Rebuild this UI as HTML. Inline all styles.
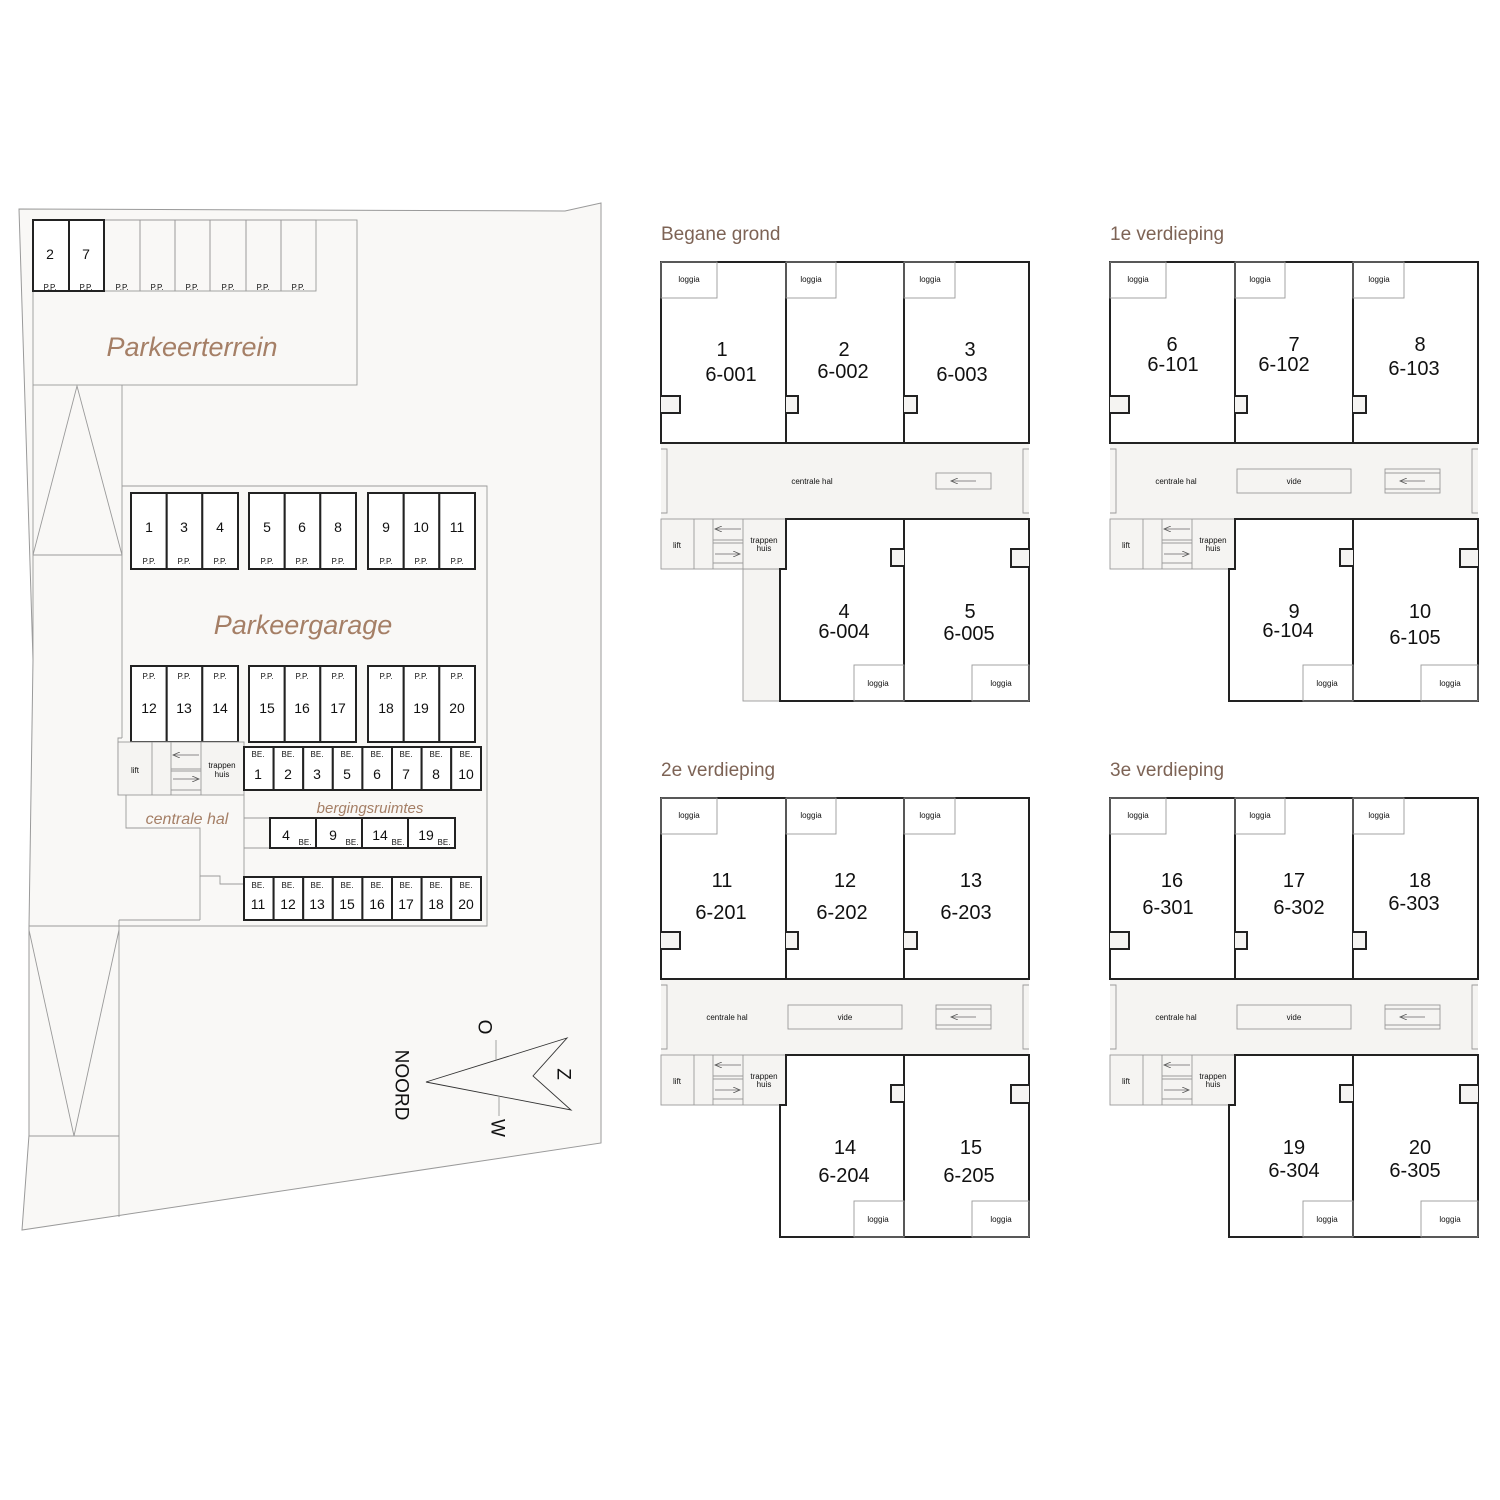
<!DOCTYPE html>
<html><head><meta charset="utf-8"><style>
html,body{margin:0;padding:0;background:#fff;}
svg{display:block;}
text{font-family:"Liberation Sans",sans-serif;fill:#111;}
.t{fill:#7d6355;font-size:19px;}
.it{fill:#a57f66;font-style:italic;}
.thin{fill:none;stroke:#9a9a9a;stroke-width:0.9;}
.b{fill:#fff;stroke:#222;stroke-width:2;}
.lg{fill:#f5f4f2;stroke:#9a9a9a;stroke-width:0.9;}
.s{font-size:8px;text-anchor:middle;}
.n{font-size:14px;text-anchor:middle;}
.u{font-size:20px;text-anchor:middle;}
</style></head><body>
<svg width="1500" height="1500" viewBox="0 0 1500 1500" xmlns="http://www.w3.org/2000/svg">
<defs>
<marker id="ah" markerWidth="8" markerHeight="6" refX="7" refY="3" orient="auto" markerUnits="userSpaceOnUse"><path d="M0,0 L7,3 L0,6" fill="none" stroke="#555" stroke-width="0.8"/></marker>
<g id="floor">
 <rect x="661" y="443" width="368" height="76" fill="#f5f4f2"/>
 <polyline class="thin" points="661,449 667,449 667,513 661,513"/>
 <polyline class="thin" points="1029,449 1023,449 1023,513 1029,513"/>
 <rect class="lg" x="661" y="519" width="125" height="50"/>
 <line class="thin" x1="694" y1="519" x2="694" y2="569"/>
 <line class="thin" x1="713" y1="519" x2="713" y2="569"/>
 <line class="thin" x1="743" y1="519" x2="743" y2="569"/>
 <line class="thin" x1="713" y1="540" x2="743" y2="540"/>
 <line class="thin" x1="713" y1="543" x2="743" y2="543"/>
 <line class="thin" x1="713" y1="563" x2="743" y2="563"/>
 <line stroke="#666" stroke-width="0.7" x1="741" y1="529" x2="715" y2="529" marker-end="url(#ah)"/>
 <line stroke="#666" stroke-width="0.7" x1="715" y1="554" x2="740" y2="554" marker-end="url(#ah)"/>
 <rect class="b" x="661" y="262" width="125" height="181"/>
 <rect class="b" x="786" y="262" width="118" height="181"/>
 <rect class="b" x="904" y="262" width="125" height="181"/>
 <rect class="thin" x="661" y="262" width="56" height="36"/>
 <rect class="thin" x="786" y="262" width="50" height="36"/>
 <rect class="thin" x="904" y="262" width="51" height="36"/>
 <polyline points="661,396 680,396 680,413 661,413" fill="#f5f4f2" stroke="#222" stroke-width="2"/>
 <polyline points="786,396 798,396 798,413 786,413" fill="#f5f4f2" stroke="#222" stroke-width="2"/>
 <polyline points="904,396 917,396 917,413 904,413" fill="#f5f4f2" stroke="#222" stroke-width="2"/>
 <polygon class="b" points="786,519 904,519 904,701 780,701 780,569 786,569"/>
 <rect class="b" x="904" y="519" width="125" height="182"/>
 <polyline points="904,549 891,549 891,566 904,566" fill="#f5f4f2" stroke="#222" stroke-width="2"/>
 <polyline points="1029,549 1011,549 1011,567 1029,567" fill="#f5f4f2" stroke="#222" stroke-width="2"/>
 <rect class="thin" x="854" y="665" width="50" height="36"/>
 <rect class="thin" x="972" y="665" width="57" height="36"/>
 <text x="689" y="282" class="s">loggia</text>
 <text x="811" y="282" class="s">loggia</text>
 <text x="930" y="282" class="s">loggia</text>
 <text x="878" y="686" class="s">loggia</text>
 <text x="1001" y="686" class="s">loggia</text>
 <text x="677" y="548" class="s">lift</text>
 <text x="764" y="543" class="s">trappen</text>
 <text x="764" y="551" class="s">huis</text>
</g>
<g id="hallup">
 <rect class="thin" x="788" y="469" width="114" height="24"/>
 <text x="845" y="484" class="s">vide</text>
 <rect class="thin" x="936" y="469" width="55" height="24"/>
 <line class="thin" x1="936" y1="473" x2="991" y2="473"/>
 <line class="thin" x1="936" y1="489" x2="991" y2="489"/>
 <line stroke="#666" stroke-width="0.7" x1="976" y1="481" x2="951" y2="481" marker-end="url(#ah)"/>
 <text x="727" y="484" class="s">centrale hal</text>
</g>
</defs>

<!-- SITE PLAN -->
<polygon points="19,209 565,211 601,203 601,1143 22,1230 29,1135 29,927 33,660" fill="#f9f8f6" stroke="#9a9a9a" stroke-width="1"/>
<rect class="thin" x="33" y="220" width="324" height="165"/>
<g class="thin">
<line x1="33" y1="385" x2="33" y2="660"/>
<line x1="122" y1="385" x2="122" y2="738"/>
<polyline points="122,738 118,738 118,795"/>
<line x1="33" y1="555" x2="122" y2="555"/>
<polyline points="33,555 77,386 122,555"/>
<polyline points="122,486 487,486 487,926 29,926"/>
<rect x="104" y="220" width="36" height="71"/><rect x="140" y="220" width="35" height="71"/><rect x="175" y="220" width="35" height="71"/><rect x="210" y="220" width="36" height="71"/><rect x="246" y="220" width="35" height="71"/><rect x="281" y="220" width="35" height="71"/>
<polyline points="29,930 74,1136 119,930"/>
<line x1="29" y1="1136" x2="119" y2="1136"/>
<line x1="119" y1="920" x2="119" y2="1217"/>
<line x1="119" y1="920" x2="200" y2="920"/>
<polyline points="126,795 126,828 200,828 200,876 220,876 220,884 244,884"/>
<line x1="200" y1="876" x2="200" y2="920"/>
<line x1="244" y1="795" x2="244" y2="920"/>
<line x1="244" y1="818" x2="270" y2="818"/><line x1="244" y1="848" x2="270" y2="848"/>
</g>
<rect class="b" x="33" y="220" width="36" height="71"/><rect class="b" x="69" y="220" width="35" height="71"/>
<text x="50" y="290" class="s">P.P.</text><text x="86" y="290" class="s">P.P.</text><text x="122" y="290" class="s">P.P.</text><text x="157" y="290" class="s">P.P.</text><text x="192" y="290" class="s">P.P.</text><text x="228" y="290" class="s">P.P.</text><text x="263" y="290" class="s">P.P.</text><text x="298" y="290" class="s">P.P.</text>
<text x="50" y="259" class="n">2</text><text x="86" y="259" class="n">7</text>
<text x="192" y="356" class="it" font-size="27" text-anchor="middle">Parkeerterrein</text>
<text x="303" y="634" class="it" font-size="27" text-anchor="middle">Parkeergarage</text>

<g>
<rect class="b" x="131" y="493" width="35.7" height="76"/><rect class="b" x="166.7" y="493" width="35.6" height="76"/><rect class="b" x="202.3" y="493" width="35.7" height="76"/>
<rect class="b" x="249" y="493" width="35.7" height="76"/><rect class="b" x="284.7" y="493" width="35.6" height="76"/><rect class="b" x="320.3" y="493" width="35.7" height="76"/>
<rect class="b" x="368" y="493" width="35.7" height="76"/><rect class="b" x="403.7" y="493" width="35.6" height="76"/><rect class="b" x="439.3" y="493" width="35.7" height="76"/>
<text x="149" y="532" class="n">1</text><text x="184" y="532" class="n">3</text><text x="220" y="532" class="n">4</text>
<text x="267" y="532" class="n">5</text><text x="302" y="532" class="n">6</text><text x="338" y="532" class="n">8</text>
<text x="386" y="532" class="n">9</text><text x="421" y="532" class="n">10</text><text x="457" y="532" class="n">11</text>
<text x="149" y="564" class="s">P.P.</text><text x="184" y="564" class="s">P.P.</text><text x="220" y="564" class="s">P.P.</text>
<text x="267" y="564" class="s">P.P.</text><text x="302" y="564" class="s">P.P.</text><text x="338" y="564" class="s">P.P.</text>
<text x="386" y="564" class="s">P.P.</text><text x="421" y="564" class="s">P.P.</text><text x="457" y="564" class="s">P.P.</text>
</g>
<g>
<rect class="b" x="131" y="666" width="35.7" height="76"/><rect class="b" x="166.7" y="666" width="35.6" height="76"/><rect class="b" x="202.3" y="666" width="35.7" height="76"/>
<rect class="b" x="249" y="666" width="35.7" height="76"/><rect class="b" x="284.7" y="666" width="35.6" height="76"/><rect class="b" x="320.3" y="666" width="35.7" height="76"/>
<rect class="b" x="368" y="666" width="35.7" height="76"/><rect class="b" x="403.7" y="666" width="35.6" height="76"/><rect class="b" x="439.3" y="666" width="35.7" height="76"/>
<text x="149" y="713" class="n">12</text><text x="184" y="713" class="n">13</text><text x="220" y="713" class="n">14</text>
<text x="267" y="713" class="n">15</text><text x="302" y="713" class="n">16</text><text x="338" y="713" class="n">17</text>
<text x="386" y="713" class="n">18</text><text x="421" y="713" class="n">19</text><text x="457" y="713" class="n">20</text>
<text x="149" y="679" class="s">P.P.</text><text x="184" y="679" class="s">P.P.</text><text x="220" y="679" class="s">P.P.</text>
<text x="267" y="679" class="s">P.P.</text><text x="302" y="679" class="s">P.P.</text><text x="338" y="679" class="s">P.P.</text>
<text x="386" y="679" class="s">P.P.</text><text x="421" y="679" class="s">P.P.</text><text x="457" y="679" class="s">P.P.</text>
</g>
<rect class="lg" x="118" y="742" width="126" height="53"/>
<g class="thin"><line x1="152" y1="742" x2="152" y2="795"/><line x1="171" y1="742" x2="171" y2="795"/><line x1="201" y1="742" x2="201" y2="795"/>
<line x1="171" y1="769" x2="201" y2="769"/><line x1="171" y1="771" x2="201" y2="771"/><line x1="171" y1="790" x2="201" y2="790"/></g>
<line stroke="#666" stroke-width="0.7" x1="199" y1="755" x2="173" y2="755" marker-end="url(#ah)"/>
<line stroke="#666" stroke-width="0.7" x1="173" y1="779" x2="199" y2="779" marker-end="url(#ah)"/>
<text x="135" y="773" class="s" font-size="7">lift</text>
<text x="222" y="768" class="s">trappen</text><text x="222" y="777" class="s">huis</text>
<text x="187" y="824" class="it" font-size="16" text-anchor="middle">centrale hal</text>
<text x="370" y="813" class="it" font-size="15" text-anchor="middle">bergingsruimtes</text>
<g id="srow">
<rect class="b" x="244" y="747" width="29.6" height="43"/><rect class="b" x="273.6" y="747" width="29.6" height="43"/><rect class="b" x="303.2" y="747" width="29.6" height="43"/><rect class="b" x="332.8" y="747" width="29.6" height="43"/><rect class="b" x="362.4" y="747" width="29.6" height="43"/><rect class="b" x="392" y="747" width="29.6" height="43"/><rect class="b" x="421.6" y="747" width="29.6" height="43"/><rect class="b" x="451.2" y="747" width="29.8" height="43"/>
</g>
<use href="#srow" y="130"/>
<text x="258" y="757" class="s">BE.</text><text x="288" y="757" class="s">BE.</text><text x="317" y="757" class="s">BE.</text><text x="347" y="757" class="s">BE.</text><text x="377" y="757" class="s">BE.</text><text x="406" y="757" class="s">BE.</text><text x="436" y="757" class="s">BE.</text><text x="466" y="757" class="s">BE.</text>
<text x="258" y="779" class="n">1</text><text x="288" y="779" class="n">2</text><text x="317" y="779" class="n">3</text><text x="347" y="779" class="n">5</text><text x="377" y="779" class="n">6</text><text x="406" y="779" class="n">7</text><text x="436" y="779" class="n">8</text><text x="466" y="779" class="n">10</text>
<text x="258" y="888" class="s">BE.</text><text x="288" y="888" class="s">BE.</text><text x="317" y="888" class="s">BE.</text><text x="347" y="888" class="s">BE.</text><text x="377" y="888" class="s">BE.</text><text x="406" y="888" class="s">BE.</text><text x="436" y="888" class="s">BE.</text><text x="466" y="888" class="s">BE.</text>
<text x="258" y="909" class="n">11</text><text x="288" y="909" class="n">12</text><text x="317" y="909" class="n">13</text><text x="347" y="909" class="n">15</text><text x="377" y="909" class="n">16</text><text x="406" y="909" class="n">17</text><text x="436" y="909" class="n">18</text><text x="466" y="909" class="n">20</text>
<rect class="b" x="270" y="818" width="46" height="30"/><rect class="b" x="316" y="818" width="46" height="30"/><rect class="b" x="362" y="818" width="46" height="30"/><rect class="b" x="408" y="818" width="47" height="30"/>
<text x="286" y="840" class="n">4</text><text x="333" y="840" class="n">9</text><text x="380" y="840" class="n">14</text><text x="426" y="840" class="n">19</text>
<text x="305" y="845" class="s">BE.</text><text x="352" y="845" class="s">BE.</text><text x="398" y="845" class="s">BE.</text><text x="444" y="845" class="s">BE.</text>
<polygon points="426,1082 567,1038 533,1076 571,1110" fill="none" stroke="#333" stroke-width="0.9"/>
<line class="thin" x1="496" y1="1040" x2="496" y2="1060"/>
<line class="thin" x1="499" y1="1096" x2="499" y2="1116"/>
<text transform="translate(484,1027) rotate(90)" font-size="19" text-anchor="middle" dominant-baseline="central">O</text>
<text transform="translate(497,1128) rotate(90)" font-size="19" text-anchor="middle" dominant-baseline="central">W</text>
<text transform="translate(563,1074) rotate(90)" font-size="19" text-anchor="middle" dominant-baseline="central">Z</text>
<text transform="translate(401,1085) rotate(90)" font-size="19" text-anchor="middle" dominant-baseline="central">NOORD</text>

<text x="661" y="240" class="t">Begane grond</text>
<text x="1110" y="240" class="t">1e verdieping</text>
<text x="661" y="776" class="t">2e verdieping</text>
<text x="1110" y="776" class="t">3e verdieping</text>

<rect class="lg" x="743" y="569" width="37" height="132"/>
<use href="#floor"/>
<rect class="thin" x="936" y="473" width="55" height="16"/>
<line stroke="#666" stroke-width="0.7" x1="976" y1="481" x2="951" y2="481" marker-end="url(#ah)"/>
<text x="812" y="484" class="s">centrale hal</text>
<use href="#floor" x="449"/><use href="#hallup" x="449"/>
<use href="#floor" y="536"/><use href="#hallup" y="536"/>
<use href="#floor" x="449" y="536"/><use href="#hallup" x="449" y="536"/>

<g class="u" dominant-baseline="central">
<text x="722" y="350">1</text><text x="731" y="375">6-001</text>
<text x="844" y="350">2</text><text x="843" y="372">6-002</text>
<text x="970" y="350">3</text><text x="962" y="375">6-003</text>
<text x="844" y="612">4</text><text x="844" y="632">6-004</text>
<text x="970" y="612">5</text><text x="969" y="634">6-005</text>
<text x="1172" y="345">6</text><text x="1173" y="365">6-101</text>
<text x="1294" y="345">7</text><text x="1284" y="365">6-102</text>
<text x="1420" y="345">8</text><text x="1414" y="369">6-103</text>
<text x="1294" y="612">9</text><text x="1288" y="631">6-104</text>
<text x="1420" y="612">10</text><text x="1415" y="638">6-105</text>
<text x="722" y="881">11</text><text x="721" y="913">6-201</text>
<text x="845" y="881">12</text><text x="842" y="913">6-202</text>
<text x="971" y="881">13</text><text x="966" y="913">6-203</text>
<text x="845" y="1148">14</text><text x="844" y="1176">6-204</text>
<text x="971" y="1148">15</text><text x="969" y="1176">6-205</text>
<text x="1172" y="881">16</text><text x="1168" y="908">6-301</text>
<text x="1294" y="881">17</text><text x="1299" y="908">6-302</text>
<text x="1420" y="881">18</text><text x="1414" y="904">6-303</text>
<text x="1294" y="1148">19</text><text x="1294" y="1171">6-304</text>
<text x="1420" y="1148">20</text><text x="1415" y="1171">6-305</text>
</g>
</svg>
</body></html>
